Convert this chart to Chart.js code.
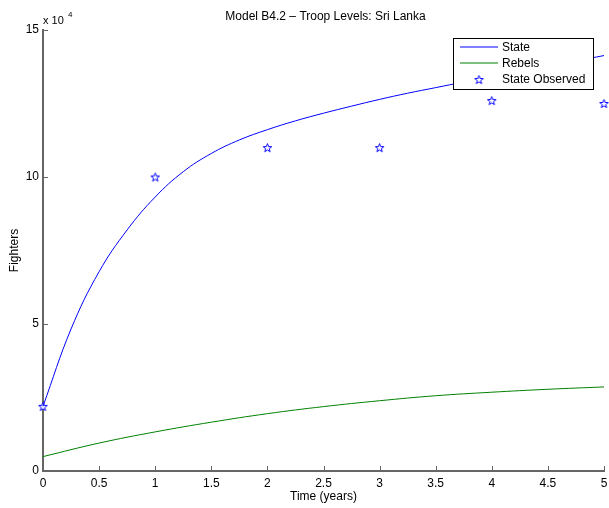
<!DOCTYPE html>
<html>
<head>
<meta charset="utf-8">
<script src="https://cdn.jsdelivr.net/npm/chart.js@4/dist/chart.umd.min.js"></script>
<style>
  body { margin: 0; background: #fff; overflow: hidden; }
  #wrap { width: 611px; height: 508px; }
  #chart { display: block; }
</style>
</head>
<body>
<div id="wrap"><canvas id="chart"></canvas></div>
<script>
// model curves (fighters)
const modelYears = [0, 0.25, 0.5, 0.75, 1, 1.25, 1.5, 1.75, 2, 2.25, 2.5, 2.75, 3, 3.25, 3.5, 3.75, 4, 4.25, 4.5, 4.75, 5];
const stateModel = [22000, 48300, 67800, 82000, 93200, 101800, 108000, 112600, 116100, 119100, 121700, 124100, 126400, 128500, 130400, 132300, 134100, 135900, 137700, 139500, 141300];

const rebelYears = [0, 0.5, 1, 1.5, 2, 2.5, 3, 3.5, 4, 4.5, 5];
const rebelsModel = [4900, 9500, 13300, 16600, 19500, 21900, 23900, 25600, 26800, 27800, 28600];

const observedYears = [0, 1, 2, 3, 4, 5];
const stateObserved = [22000, 100000, 110000, 110000, 126000, 125000];

const xTicks = [0, 0.5, 1, 1.5, 2, 2.5, 3, 3.5, 4, 4.5, 5];
const yTicks = [0, 50000, 100000, 150000];

const FONT = '"Liberation Sans", Arial, Helvetica, sans-serif';
const AXIS = '#666666';

// matlab style pentagram marker
function makeStar(size, color) {
  const c = document.createElement('canvas');
  c.width = size; c.height = size;
  const g = c.getContext('2d');
  const cx = size / 2, cy = size / 2 + 0.5;
  const R = size / 2 - 1, r = R * 0.42;
  g.beginPath();
  for (let i = 0; i < 10; i++) {
    const rad = i % 2 === 0 ? R : r;
    const a = -Math.PI / 2 + i * Math.PI / 5;
    const px = cx + rad * Math.cos(a), py = cy + rad * Math.sin(a);
    if (i === 0) g.moveTo(px, py); else g.lineTo(px, py);
  }
  g.closePath();
  g.fillStyle = '#fff';
  g.fill();
  g.strokeStyle = color;
  g.lineWidth = 1;
  g.stroke();
  return c;
}
const starImg = makeStar(11, '#0000ff');

const matlabBits = {
  id: 'matlabBits',
  afterDraw(chart) {
    const ctx = chart.ctx;
    const area = chart.chartArea;
    const xs = chart.scales.x, ys = chart.scales.y;
    ctx.save();

    // inward ticks
    ctx.strokeStyle = AXIS;
    ctx.lineWidth = 1;
    ctx.beginPath();
    xTicks.forEach(function (t) {
      const px = Math.round(xs.getPixelForValue(t)) + 0.5;
      ctx.moveTo(px, area.bottom);
      ctx.lineTo(px, area.bottom - 5);
    });
    yTicks.forEach(function (t) {
      const py = Math.round(ys.getPixelForValue(t)) + 0.5;
      ctx.moveTo(area.left, py);
      ctx.lineTo(area.left + 5, py);
    });
    ctx.stroke();

    // title
    ctx.fillStyle = '#000';
    ctx.font = '12px ' + FONT;
    ctx.textAlign = 'center';
    ctx.textBaseline = 'alphabetic';
    ctx.fillText('Model B4.2 \u2013 Troop Levels: Sri Lanka', (area.left + area.right) / 2 + 2, 20);

    // exponent
    ctx.textAlign = 'left';
    ctx.font = '11px ' + FONT;
    ctx.fillText('x 10', area.left, 24);
    ctx.font = '8px ' + FONT;
    ctx.fillText('4', area.left + 25, 17);

    // legend
    const lx = 453, ly = 38, lw = 140, lh = 51;
    ctx.fillStyle = '#fff';
    ctx.fillRect(lx, ly, lw, lh);
    ctx.strokeStyle = '#000';
    ctx.lineWidth = 1;
    ctx.strokeRect(lx + 0.5, ly + 0.5, lw, lh);
    ctx.font = '12px ' + FONT;
    ctx.textBaseline = 'middle';
    chart.data.datasets.forEach(function (ds, i) {
      const cy = ly + 9 + i * 16;
      if (ds.showLine === false) {
        ctx.drawImage(starImg, 479 - 5.5, cy - 5);
      } else {
        ctx.strokeStyle = ds.borderColor;
        ctx.lineWidth = 1.2;
        ctx.beginPath();
        ctx.moveTo(460, cy);
        ctx.lineTo(498, cy);
        ctx.stroke();
      }
      ctx.fillStyle = '#000';
      ctx.fillText(ds.label, 502, cy + 1);
    });
    ctx.restore();
  }
};

function toPoints(xv, yv) {
  return xv.map(function (x, i) { return { x: x, y: yv[i] }; });
}

const ctx = document.getElementById('chart');
new Chart(ctx, {
  type: 'line',
  data: {
    datasets: [{
      label: 'State',
      data: toPoints(modelYears, stateModel),
      borderColor: '#0000ff',
      borderWidth: 1,
      pointRadius: 0,
      tension: 0.4
    }, {
      label: 'Rebels',
      data: toPoints(rebelYears, rebelsModel),
      borderColor: '#008000',
      borderWidth: 1,
      pointRadius: 0,
      tension: 0.4
    }, {
      label: 'State Observed',
      data: toPoints(observedYears, stateObserved),
      borderColor: '#0000ff',
      showLine: false,
      pointStyle: starImg,
      pointRadius: 6
    }]
  },
  options: {
    responsive: true,
    maintainAspectRatio: false,
    animation: false,
    clip: false,
    layout: { padding: { top: 30, right: 3, left: 0, bottom: 0 } },
    plugins: {
      legend: { display: false },
      tooltip: { enabled: false }
    },
    scales: {
      x: {
        type: 'linear',
        min: 0,
        max: 5,
        afterFit: function (s) { s.height = 37; s.paddingLeft = 0; s.paddingRight = 0; },
        afterBuildTicks: function (s) { s.ticks = xTicks.map(function (v) { return { value: v }; }); },
        grid: { display: false, drawTicks: false },
        border: { display: true, color: AXIS, width: 2 },
        ticks: {
          padding: 5,
          color: '#000',
          font: { family: FONT, size: 12 },
          maxRotation: 0,
          callback: function (v) { return String(v); }
        },
        title: {
          display: true,
          text: 'Time (years)',
          color: '#000',
          font: { family: FONT, size: 12 },
          padding: { top: 0, bottom: 4 }
        }
      },
      y: {
        type: 'linear',
        min: 0,
        max: 150000,
        afterFit: function (s) { s.width = 43; s.paddingTop = 0; s.paddingBottom = 0; },
        afterBuildTicks: function (s) { s.ticks = yTicks.map(function (v) { return { value: v }; }); },
        grid: { display: false, drawTicks: false },
        border: { display: true, color: AXIS, width: 2 },
        ticks: {
          padding: 4,
          color: '#000',
          font: { family: FONT, size: 12 },
          callback: function (v) { return String(v / 10000); }
        },
        title: {
          display: true,
          text: 'Fighters',
          color: '#000',
          font: { family: FONT, size: 12 },
          padding: { top: 7, bottom: 0 }
        }
      }
    }
  },
  plugins: [matlabBits]
});
</script>
</body>
</html>
